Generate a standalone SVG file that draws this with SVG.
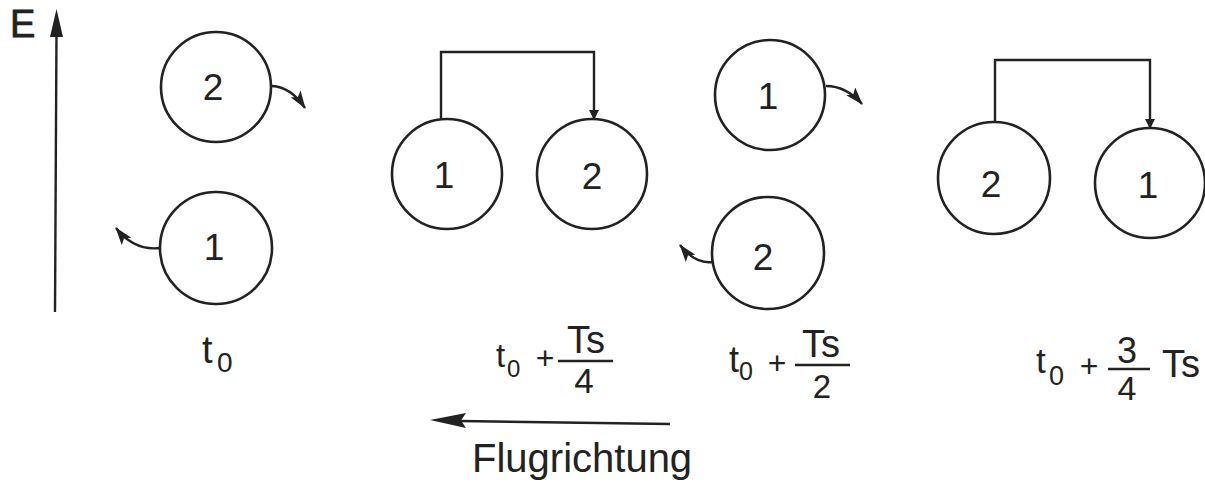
<svg xmlns="http://www.w3.org/2000/svg" width="1205" height="484" viewBox="0 0 1205 484">
<defs>
<style>
.c{fill:#fff;stroke:#222;stroke-width:2.6}
.l{fill:none;stroke:#222;stroke-width:2.4}
.t{font-family:"Liberation Sans",Arial,sans-serif;fill:#222}
.d{font-size:37px;text-anchor:middle}
.p{font-size:32px;text-anchor:middle}
</style>
<marker id="ah" markerWidth="10" markerHeight="12" refX="9" refY="6" orient="auto" markerUnits="userSpaceOnUse" viewBox="0 0 10 12">
<path d="M0,1 L10,6 L0,11 Z" fill="#222"/>
</marker>
<marker id="sh" markerWidth="18" markerHeight="12" refX="17" refY="6" orient="auto" markerUnits="userSpaceOnUse" viewBox="0 0 18 12">
<path d="M0,0 L18,6 L0,12 L4,6 Z" fill="#222"/>
</marker>
</defs>
<rect width="1205" height="484" fill="#fff"/>

<g id="axis">
<text class="t" x="10" y="37" font-size="38" stroke="#222" stroke-width="0.8">E</text>
<line x1="55" y1="312" x2="56.5" y2="30" class="l"/>
<path d="M56.5,9 L50,37 L63,37 Z" fill="#222"/>
</g>

<g id="connectors">
<path d="M272,86 Q291,87 305,108" class="l" marker-end="url(#sh)"/>
<path d="M160,248 Q134,251 116,228" class="l" marker-end="url(#sh)"/>
<path d="M826,86 Q846,86 862,104" class="l" marker-end="url(#sh)"/>
<path d="M712,262 Q695,264 680,245" class="l" marker-end="url(#sh)"/>
<path d="M441,119 V52 H594 V119" class="l" marker-end="url(#ah)"/>
<path d="M995,123 V60 H1150 V128" class="l" marker-end="url(#ah)"/>
<line x1="670" y1="424" x2="460" y2="421" class="l" stroke-width="2.8"/>
<path d="M430,420 L466,413 L461,420.5 L466,428 Z" fill="#222"/>
</g>

<g id="n-t0-2"><circle class="c" cx="216" cy="87" r="55"/><text class="t d" x="213" y="100">2</text></g>
<g id="n-t0-1"><circle class="c" cx="216" cy="248" r="56"/><text class="t d" x="214" y="260">1</text></g>
<g id="n-t1-1"><circle class="c" cx="447" cy="174" r="55"/><text class="t d" x="444" y="188">1</text></g>
<g id="n-t1-2"><circle class="c" cx="592" cy="174" r="55"/><text class="t d" x="592" y="189">2</text></g>
<g id="n-t2-1"><circle class="c" cx="770" cy="95" r="55"/><text class="t d" x="768" y="109">1</text></g>
<g id="n-t2-2"><circle class="c" cx="768" cy="253" r="56"/><text class="t d" x="763" y="270">2</text></g>
<g id="n-t3-2"><circle class="c" cx="994" cy="178" r="56"/><text class="t d" x="991" y="197">2</text></g>
<g id="n-t3-1"><circle class="c" cx="1150" cy="183" r="55"/><text class="t d" x="1148" y="198">1</text></g>

<g id="labels">
<text class="t" x="202" y="363" font-size="38">t</text>
<text class="t" x="217" y="372" font-size="28">0</text>

<text class="t" x="496" y="367" font-size="33">t</text>
<text class="t" x="507" y="377" font-size="24">0</text>
<text class="t p" x="545" y="369">+</text>
<line x1="558" y1="361" x2="613" y2="361" class="l"/>
<text class="t" x="567" y="353" font-size="38">Ts</text>
<text class="t" x="584" y="393" font-size="35" text-anchor="middle">4</text>

<text class="t" x="729" y="372" font-size="36">t</text>
<text class="t" x="739" y="380" font-size="25">0</text>
<text class="t p" x="777" y="374">+</text>
<line x1="795" y1="365" x2="850" y2="365" class="l"/>
<text class="t" x="802" y="357" font-size="38">Ts</text>
<text class="t" x="822" y="398" font-size="33" text-anchor="middle">2</text>

<text class="t" x="1036" y="373" font-size="35">t</text>
<text class="t" x="1049" y="385" font-size="27">0</text>
<text class="t p" x="1089" y="377">+</text>
<line x1="1108" y1="369" x2="1150" y2="369" class="l"/>
<text class="t" x="1127" y="363" font-size="36" text-anchor="middle">3</text>
<text class="t" x="1127" y="400" font-size="34" text-anchor="middle">4</text>
<text class="t" x="1162" y="377" font-size="38">Ts</text>

<text class="t" x="472" y="472" font-size="40">Flugrichtung</text>
</g>
</svg>
